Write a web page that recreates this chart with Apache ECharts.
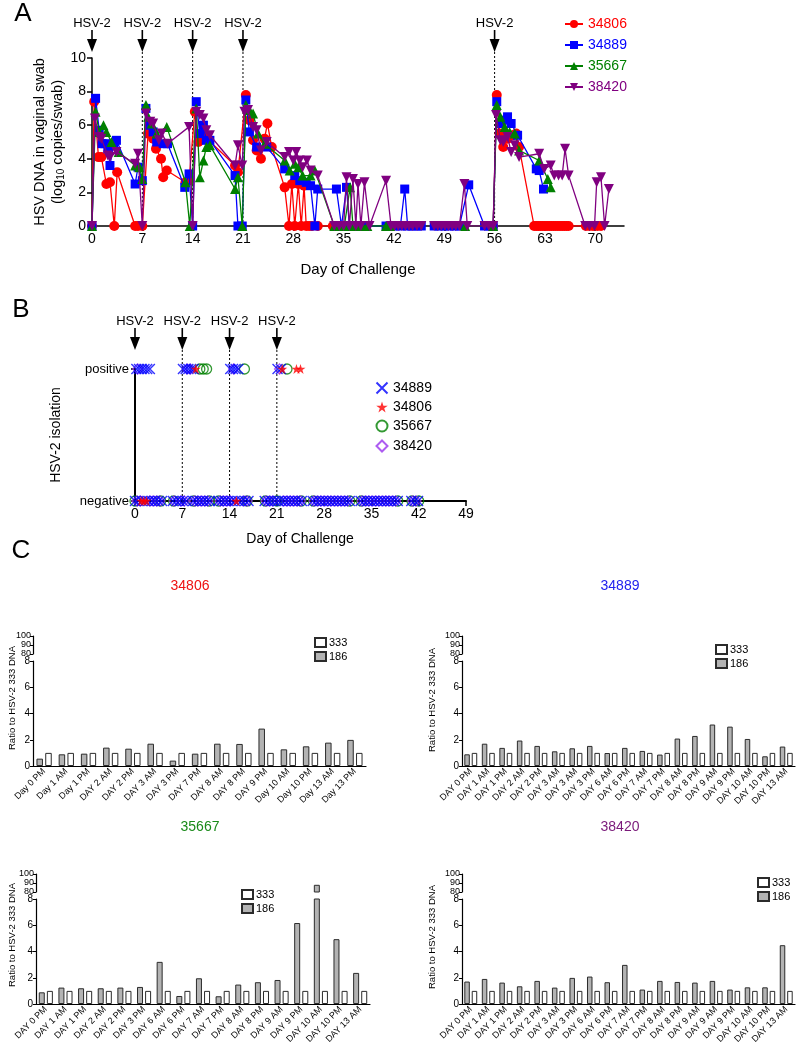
<!DOCTYPE html>
<html><head><meta charset="utf-8">
<script src="https://cdn.jsdelivr.net/npm/echarts@6/dist/echarts.min.js"></script>
<style>html,body{margin:0;padding:0;background:#fff}#c{width:797px;height:1049px}</style>
</head><body><div id="c"></div><script>
const FONT = '"Liberation Sans", Arial, Helvetica, sans-serif';

// ---------- Panel A: HSV DNA (log10 copies/swab) by day ----------
const challengeDaysA = [0, 7, 14, 21, 56];
const dayTicksA = [0, 7, 14, 21, 28, 35, 42, 49, 56, 63, 70];
const namesA = ['34806', '34889', '35667', '38420'];
const colorsA = ['#ff0000', '#0000ff', '#008000', '#800080'];
const a34806 = [[0,0],[0.3,7.4],[0.9,4.1],[1.3,4.1],[2.0,2.5],[2.5,2.6],[3.1,0],[3.5,3.2],[6.0,0],[6.4,0],[7.0,0],[7.8,5.5],[8.5,5.2],[8.9,4.6],[9.6,4.0],[9.9,2.9],[10.4,3.3],[13.0,2.6],[13.5,2.7],[14.3,6.8],[14.8,5.0],[15.5,5.4],[19.9,3.6],[20.3,3.2],[21.4,7.8],[21.9,6.3],[22.4,5.1],[22.9,4.5],[23.5,4.0],[24.0,5.2],[24.4,6.1],[25.0,4.7],[26.8,2.3],[27.4,0],[27.8,2.5],[28.2,0],[28.7,2.5],[29.1,0],[29.5,2.4],[29.8,0],[30.2,0],[30.6,0],[31.4,0],[33.5,0],[40,null],[55.8,0],[56.3,7.8],[56.7,5.5],[57.2,4.7],[57.8,5.2],[58.5,5.4],[59.0,5.5],[59.4,4.7],[61.5,0],[61.8,0],[62.1,0],[62.4,0],[62.7,0],[63.0,0],[63.3,0],[63.6,0],[63.9,0],[64.2,0],[64.5,0],[64.8,0],[65.1,0],[65.4,0],[65.7,0],[66.0,0],[66.3,0],[68.7,0],[69.2,0],[69.7,0],[70.3,0],[70.8,0]];
const a34889 = [[0,0],[0.5,7.6],[1.0,5.7],[1.4,4.9],[1.8,4.9],[2.2,4.6],[2.5,3.6],[3.0,4.9],[3.4,5.1],[6.0,2.5],[6.4,3.5],[7.0,2.7],[7.5,7.0],[8.1,6.0],[8.5,5.6],[9.0,5.0],[9.9,4.9],[10.5,4.9],[12.9,2.3],[13.5,3.1],[14.0,0],[14.5,7.4],[15.0,5.5],[15.5,6.0],[15.9,5.1],[16.4,5.1],[19.9,3.0],[20.3,0],[20.9,0],[21.4,7.5],[21.9,5.6],[22.9,4.7],[24.3,4.7],[26.8,3.4],[28.2,3.0],[28.9,2.7],[29.8,2.6],[30.4,2.4],[31.0,0],[31.4,2.2],[34.0,2.2],[34.7,0],[35.4,2.3],[35.8,0],[36.5,0],[37.2,0],[38.0,0],[40.9,0],[41.5,0],[42.2,0],[42.9,0],[43.5,2.2],[43.9,0],[44.5,0],[45.2,0],[45.8,0],[46.7,null],[47.6,0],[48.3,0],[49.0,0],[49.7,0],[50.4,0],[51.1,0],[52.4,2.45],[54.6,0],[55.2,0],[55.8,0],[56.3,7.4],[56.9,6.1],[57.4,6.3],[57.8,6.5],[58.3,6.1],[59.2,5.4],[61.8,3.4],[62.2,3.3],[62.8,2.2]];
const a35667 = [[0,0],[0.5,6.8],[1.0,5.6],[1.6,6.0],[2.0,5.6],[2.7,5.0],[3.7,4.4],[6.0,3.6],[6.6,3.5],[7.0,2.8],[7.5,7.2],[7.8,6.5],[8.3,6.1],[9.0,5.5],[10.4,5.9],[13.0,2.6],[13.6,0],[14.5,7.0],[15.0,2.9],[15.5,3.9],[15.9,4.7],[16.4,4.8],[19.9,2.2],[20.3,2.9],[20.9,0],[21.4,7.2],[21.9,6.9],[22.4,6.7],[23.1,5.5],[24.0,4.9],[26.8,3.9],[27.5,3.3],[28.2,3.7],[28.7,3.5],[29.3,3.0],[30.4,3.0],[31.0,3.3],[33.7,0],[34.4,0],[35.1,0],[35.9,2.3],[36.3,0],[37.0,0],[37.6,0],[38.3,0],[40.9,0],[41.5,0],[46.7,null],[51.9,0],[55.8,0],[56.3,7.2],[56.8,6.5],[57.4,5.9],[58.1,5.6],[58.8,5.5],[59.4,4.5],[62.2,3.9],[63.4,2.8],[63.8,2.3]];
const a38420 = [[0,0],[0.4,6.4],[1.0,5.3],[1.3,5.2],[2.2,4.2],[2.5,4.1],[3.4,4.4],[6.0,3.7],[6.4,4.3],[7.0,0],[7.5,6.7],[8.1,6.2],[8.5,6.1],[9.3,5.1],[9.7,5.5],[10.5,4.9],[13.5,5.9],[14.0,0],[14.5,6.8],[15.0,6.6],[15.5,6.4],[15.9,5.7],[16.4,5.4],[19.9,3.6],[20.3,4.8],[20.9,3.6],[21.2,6.8],[21.7,6.9],[22.4,5.9],[22.9,5.7],[23.5,4.5],[24.3,5.0],[26.8,4.1],[27.4,4.4],[28.0,3.9],[28.4,4.4],[28.9,3.9],[29.3,3.5],[29.9,3.9],[30.4,3.3],[31.4,3.0],[33.7,0],[34.4,0],[35.0,0],[35.4,2.9],[35.8,0],[36.3,2.8],[36.7,0],[37.0,2.5],[37.4,0],[37.9,2.6],[38.6,0],[40.9,2.7],[41.6,0],[42.1,0],[42.6,0],[43.1,0],[43.6,0],[44.1,0],[44.6,0],[45.2,0],[45.8,0],[46.7,null],[47.6,0],[48.1,0],[48.6,0],[49.1,0],[49.6,0],[50.1,0],[50.6,0],[51.1,0],[51.8,2.5],[52.2,0],[54.6,0],[55.2,0],[55.8,0],[56.2,6.6],[56.8,5.1],[57.2,5.0],[57.8,5.3],[58.3,4.4],[58.8,4.8],[59.4,4.1],[62.2,4.3],[62.9,3.4],[63.8,3.6],[64.3,3.0],[64.9,3.0],[65.4,3.0],[65.8,4.6],[66.3,3.0],[68.6,0],[69.2,0],[69.9,0],[70.2,2.6],[70.8,2.9],[71.3,0],[71.9,2.2]];
const seriesA = [a34806, a34889, a35667, a38420];
const symbolsA = ['circle', 'rect', 'triangle', 'path://M0,0L10,0L5,10Z'];

// ---------- Panel B: HSV-2 isolation (positive / negative) ----------
const challengeDaysB = [0, 7, 14, 21];
const namesB = ['34889', '34806', '35667', '38420'];
const posB = {
  '34889': [0.2,0.6,1.0,1.4,1.8,2.2,7.1,7.5,7.9,8.3,8.7,14.1,14.5,14.9,15.3,21.1,21.6],
  '34806': [9.0,21.8,23.9,24.5],
  '35667': [9.6,10.1,10.6,16.2,22.5],
  '38420': [0.4,7.7,8.2,14.6,21.4]
};
const negB = {
  '34889': [0.0,0.5,1.0,1.5,2.0,2.5,3.0,3.5,4.0,5.6,6.1,6.6,7.1,7.6,8.6,9.1,9.6,10.1,10.6,11.1,12.3,12.8,13.3,13.8,14.3,14.8,15.3,15.8,16.3,16.8,19.2,19.7,20.2,20.7,21.2,21.7,22.2,22.7,23.2,23.7,24.2,24.7,26.3,26.8,27.3,27.8,28.3,28.8,29.3,29.8,30.3,30.8,31.3,31.8,33.4,33.9,34.4,34.9,35.4,35.9,36.4,36.9,37.4,37.9,38.4,38.9,40.9,41.4,41.9],
  '34806': [0.9,1.3,1.7,15.0],
  '35667': [0.0,3.8,5.7,8.7,11.0,12.4,16.6,19.3,21.0,24.6,26.4,31.8,33.5,38.9,41.0,42.0],
  '38420': [0.3,0.8,2.2,2.7,3.2,3.7,5.8,6.8,7.3,8.8,9.3,9.8,10.3,10.8,12.6,13.1,13.6,14.1,16.1,16.6,19.4,19.9,20.4,22.0,22.5,23.0,23.5,24.0,24.5,26.5,27.0,27.5,28.0,28.5,29.0,29.5,30.0,30.5,31.0,31.5,33.6,34.1,34.6,35.1,35.6,36.1,36.6,37.1,37.6,38.1,38.6,41.1,41.6]
};
const drawOrderB = ['35667', '38420', '34889', '34806'];
const styleB = {
  '34889': {symbol: 'path://M0,0L10,10M10,0L0,10', itemStyle: {color: 'none', borderColor: '#0000ff', borderWidth: 1.4}},
  '34806': {symbol: 'path://M5,0L6.2,3.6L10,3.6L6.9,5.8L8.1,9.5L5,7.2L1.9,9.5L3.1,5.8L0,3.6L3.8,3.6Z', itemStyle: {color: '#ff0000'}},
  '35667': {symbol: 'circle', itemStyle: {color: 'none', borderColor: '#008000', borderWidth: 1.3}},
  '38420': {symbol: 'path://M5,0L10,5L5,10L0,5Z', itemStyle: {color: 'none', borderColor: '#9933ee', borderWidth: 1.3}}
};

// ---------- Panel C: ratio to HSV-2 333 DNA ----------
const catC1 = ['Day 0 PM','Day 1 AM','Day 1 PM','DAY 2 AM','DAY 2 PM','DAY 3 AM','DAY 3 PM','DAY 7 PM','DAY 8 AM','DAY 8 PM','DAY 9 PM','Day 10 AM','Day 10 PM','Day 13 AM','Day 13 PM'];
const v186C1 = [0.56,0.89,0.94,1.4,1.32,1.7,0.41,0.94,1.7,1.68,2.85,1.27,1.5,1.78,1.99];
const v333C1 = [1,1,1,1,1,1,1,1,1,1,1,1,1,1,1];
const catC2 = ['DAY 0 PM','DAY 1 AM','DAY 1 PM','DAY 2 AM','DAY 2 PM','DAY 3 AM','DAY 3 AM','DAY 3 PM','DAY 6 AM','DAY 6 PM','DAY 7 AM','DAY 7 PM','DAY 8 AM','DAY 8 PM','DAY 9 AM','DAY 9 PM','DAY 10 AM','DAY 10 PM','DAY 13 AM'];
const v186C2 = [0.89,1.7,1.38,1.94,1.53,1.12,1.35,1.53,0.99,1.38,1.15,0.87,2.09,2.29,3.16,3.0,2.06,0.74,1.48];
const v333C2 = [1,1,1,1,1,1,1,1,1,1,1,1,1,1,1,1,1,1,1];
const catC3 = ['DAY 0 PM','DAY 1 AM','DAY 1 PM','DAY 2 AM','DAY 2 PM','DAY 3 PM','DAY 6 AM','DAY 6 PM','DAY 7 AM','DAY 7 PM','DAY 8 AM','DAY 8 PM','DAY 9 AM','DAY 9 PM','DAY 10 AM','DAY 10 PM','DAY 13 AM'];
const v186C3 = [0.89,1.25,1.2,1.2,1.25,1.3,3.21,0.61,1.96,0.59,1.48,1.66,1.83,6.17,88,4.94,2.37];
const v333C3 = [1,1,1,1,1,1,1,1,1,1,1,1,1,1,1,1,1];
const catC4 = ['DAY 0 PM','DAY 1 AM','DAY 1 PM','DAY 2 AM','DAY 2 PM','DAY 3 AM','DAY 3 PM','DAY 6 AM','DAY 6 PM','DAY 7 AM','DAY 7 PM','DAY 8 AM','DAY 8 PM','DAY 9 AM','DAY 9 AM','DAY 9 PM','DAY 10 AM','DAY 10 PM','DAY 13 AM'];
const v186C4 = [1.71,1.91,1.63,1.35,1.76,1.25,1.99,2.09,1.66,2.98,1.1,1.76,1.68,1.63,1.76,1.1,1.27,1.27,4.48];
const v333C4 = [1,1,1,1,1,1,1,1,1,1,1,1,1,1,1,1,1,1,1];

// ================= layout =================
const chart = echarts.init(document.getElementById('c'), null, {renderer: 'canvas'});
const axisLineBlack = {lineStyle: {color: '#000', width: 1.5}};
const tickBlack = {lineStyle: {color: '#000', width: 1.5}, length: 5};

const grids = [
  {left: 92, top: 58, width: 532, height: 168},    // A
  {left: 135, top: 369, width: 331, height: 132},  // B
  {left: 33, top: 661, width: 333, height: 105},   // C1 lower
  {left: 33, top: 636, width: 333, height: 18},    // C1 upper
  {left: 462, top: 661, width: 333, height: 105},  // C2 lower
  {left: 462, top: 636, width: 333, height: 18},   // C2 upper
  {left: 36, top: 899, width: 334, height: 105},   // C3 lower
  {left: 36, top: 874, width: 334, height: 18},    // C3 upper
  {left: 462, top: 899, width: 333, height: 105},  // C4 lower
  {left: 462, top: 874, width: 333, height: 18}    // C4 upper
];

const xAxes = [
  {gridIndex: 0, type: 'value', min: 0, max: 74, splitLine: {show: false},
   axisLine: axisLineBlack, axisTick: Object.assign({customValues: dayTicksA}, tickBlack),
   axisLabel: {customValues: dayTicksA, color: '#000', fontSize: 14, fontFamily: FONT, margin: 6}},
  {gridIndex: 1, type: 'value', min: 0, max: 49, interval: 7, splitLine: {show: false},
   axisLine: {lineStyle: {color: '#000', width: 2}}, axisTick: tickBlack,
   axisLabel: {color: '#000', fontSize: 14, fontFamily: FONT, margin: 6}}
];
const yAxes = [
  {gridIndex: 0, type: 'value', min: 0, max: 10, interval: 2, splitLine: {show: false},
   axisLine: {show: true, lineStyle: {color: '#000', width: 1.5}}, axisTick: {show: true, lineStyle: {color: '#000', width: 1.5}, length: 5},
   axisLabel: {color: '#000', fontSize: 14, fontFamily: FONT, margin: 6}},
  {gridIndex: 1, type: 'value', min: 0, max: 1, interval: 1, splitLine: {show: false},
   axisLine: {show: true, lineStyle: {color: '#000', width: 2}}, axisTick: {show: true, lineStyle: {color: '#000', width: 1.5}, length: 4},
   axisLabel: {color: '#000', fontSize: 13, fontFamily: FONT, margin: 6, formatter: v => v === 1 ? 'positive' : (v === 0 ? 'negative' : '')}}
];

const panelsC = [
  {cat: catC1, v186: v186C1, v333: v333C1, lower: 2, upper: 3, barW: 6.5},
  {cat: catC2, v186: v186C2, v333: v333C2, lower: 4, upper: 5, barW: 5.5},
  {cat: catC3, v186: v186C3, v333: v333C3, lower: 6, upper: 7, barW: 6},
  {cat: catC4, v186: v186C4, v333: v333C4, lower: 8, upper: 9, barW: 5.5}
];
const thinLine = {lineStyle: {color: '#000', width: 1.2}};
panelsC.forEach(p => {
  xAxes.push({gridIndex: p.lower, type: 'category', data: p.cat,
    axisLine: thinLine, axisTick: {alignWithLabel: true, length: 3, lineStyle: {color: '#000'}},
    axisLabel: {interval: 0, rotate: 45, color: '#000', fontSize: 9, fontFamily: FONT, margin: 4}});
  xAxes.push({gridIndex: p.upper, type: 'category', data: p.cat, show: false});
  yAxes.push({gridIndex: p.lower, type: 'value', min: 0, max: 8, interval: 2, splitLine: {show: false},
    axisLine: {show: true, lineStyle: {color: '#000', width: 1.2}}, axisTick: {show: true, length: 3, lineStyle: {color: '#000'}},
    axisLabel: {color: '#000', fontSize: 10, fontFamily: FONT, margin: 3}});
  yAxes.push({gridIndex: p.upper, type: 'value', min: 80, max: 100, interval: 10, splitLine: {show: false},
    axisLine: {show: true, lineStyle: {color: '#000', width: 1.2}}, axisTick: {show: true, length: 3, lineStyle: {color: '#000'}},
    axisLabel: {color: '#000', fontSize: 9, fontFamily: FONT, margin: 2, lineHeight: 9}});
});

const series = [];
seriesA.forEach((d, i) => {
  series.push({name: namesA[i], type: 'line', xAxisIndex: 0, yAxisIndex: 0, data: d,
    symbol: symbolsA[i], symbolSize: i === 1 ? 9 : 10, showSymbol: true, connectNulls: false,
    lineStyle: {color: colorsA[i], width: 1.3}, itemStyle: {color: colorsA[i]}, animation: false, z: 2 + i});
});
drawOrderB.forEach(n => {
  const pts = posB[n].map(d => [d, 1]).concat(negB[n].map(d => [d, 0]));
  series.push(Object.assign({name: 'B' + n, type: 'scatter', xAxisIndex: 1, yAxisIndex: 1, data: pts,
    symbolSize: 10, animation: false, z: 3}, styleB[n]));
});
const grey = {color: '#b3b3b3', borderColor: '#2b2b2b', borderWidth: 1};
const white = {color: '#ffffff', borderColor: '#2b2b2b', borderWidth: 1};
panelsC.forEach(p => {
  const hi = arr => arr.map(v => v >= 80 ? v : '-');
  series.push({name: '186', type: 'bar', xAxisIndex: p.lower, yAxisIndex: p.lower, data: p.v186, barWidth: p.barW, barGap: '35%', itemStyle: grey, animation: false});
  series.push({name: '333', type: 'bar', xAxisIndex: p.lower, yAxisIndex: p.lower, data: p.v333, barWidth: p.barW, barGap: '35%', itemStyle: white, animation: false});
  series.push({name: '186', type: 'bar', xAxisIndex: p.upper, yAxisIndex: p.upper, data: hi(p.v186), barWidth: p.barW, barGap: '35%', itemStyle: grey, animation: false});
  series.push({name: '333', type: 'bar', xAxisIndex: p.upper, yAxisIndex: p.upper, data: hi(p.v333), barWidth: p.barW, barGap: '35%', itemStyle: white, animation: false});
});

const legendC = (left, top) => ({left, top, orient: 'vertical', data: ['333', '186'], icon: 'rect',
  itemWidth: 11, itemHeight: 9, itemGap: 3,
  textStyle: {fontSize: 11, lineHeight: 10, fontFamily: FONT, color: '#000', padding: [0, 0, 0, -2]}, selectedMode: false});

chart.setOption({
  animation: false,
  backgroundColor: '#fff',
  grid: grids,
  xAxis: xAxes,
  yAxis: yAxes,
  legend: [
    {left: 559, top: 12, orient: 'vertical', itemWidth: 18, itemHeight: 10, itemGap: 7, selectedMode: false,
     data: namesA.map((n, i) => ({name: n, textStyle: {color: colorsA[i]}})),
     textStyle: {fontSize: 14, fontFamily: FONT}},
    {left: 369, top: 375, orient: 'vertical', itemWidth: 12, itemHeight: 11, itemGap: 4, selectedMode: false,
     data: namesB.map(n => 'B' + n), formatter: n => n.slice(1),
     textStyle: {fontSize: 14, lineHeight: 12, fontFamily: FONT, color: '#000'}},
    legendC(309, 632),
    legendC(710, 639),
    legendC(236, 884),
    legendC(752, 872)
  ],
  series: series
});

// ---------- annotations (arrows, dotted challenge lines, titles) ----------
const g = [];
function txt(text, x, y, size, color, rot, extra) {
  g.push(Object.assign({type: 'text', x: x, y: y, rotation: rot || 0, silent: true,
    style: Object.assign({text: text, fontSize: size, fontFamily: FONT, fill: color || '#000',
      align: 'center', verticalAlign: 'middle', textAlign: 'center', textVerticalAlign: 'middle'}, extra || {})}));
}
function arrows(days, xIdx, yIdx, textY, tipY) {
  const y0 = chart.convertToPixel({yAxisIndex: yIdx}, 0);
  days.forEach(d => {
    const x = chart.convertToPixel({xAxisIndex: xIdx}, d);
    txt('HSV-2', x, textY, 13);
    g.push({type: 'line', silent: true, shape: {x1: x, y1: textY + 7, x2: x, y2: tipY - 12}, style: {stroke: '#000', lineWidth: 1.6}});
    g.push({type: 'polygon', silent: true, shape: {points: [[x - 5, tipY - 13], [x + 5, tipY - 13], [x, tipY]]}, style: {fill: '#000'}});
    if (d !== 0) {
      g.push({type: 'line', silent: true, shape: {x1: x, y1: tipY, x2: x, y2: y0}, style: {stroke: '#000', lineWidth: 1, lineDash: [2, 2]}});
    }
  });
}
arrows(challengeDaysA, 0, 0, 23, 52);
arrows(challengeDaysB, 1, 1, 321, 350);

txt('A', 23, 14, 26);
txt('B', 21, 310, 26);
txt('C', 21, 551, 26);
txt('HSV DNA in vaginal swab', 40, 142, 14.5, '#000', Math.PI / 2);
txt('{n|(log}{s|10}{n| copies/swab)}', 58, 142, 14.5, '#000', Math.PI / 2,
  {rich: {n: {fontSize: 14.5, fontFamily: FONT, fill: '#000'}, s: {fontSize: 10, fontFamily: FONT, fill: '#000', verticalAlign: 'bottom', padding: [6, 0, 0, 0]}}});
txt('Day of Challenge', 358, 270, 15);
txt('HSV-2 isolation', 56, 435, 14, '#000', Math.PI / 2);
txt('Day of Challenge', 300, 539, 14);
txt('34806', 190, 586, 14, '#ee1111');
txt('34889', 620, 586, 14, '#2222ee');
txt('35667', 200, 827, 14, '#1a8a1a');
txt('38420', 620, 827, 14, '#7a1a7a');
txt('Ratio to HSV-2 333 DNA', 12, 698, 9.5, '#000', Math.PI / 2);
txt('Ratio to HSV-2 333 DNA', 432, 700, 9.5, '#000', Math.PI / 2);
txt('Ratio to HSV-2 333 DNA', 12, 935, 9.5, '#000', Math.PI / 2);
txt('Ratio to HSV-2 333 DNA', 432, 937, 9.5, '#000', Math.PI / 2);

chart.setOption({graphic: g});
</script></body></html>
